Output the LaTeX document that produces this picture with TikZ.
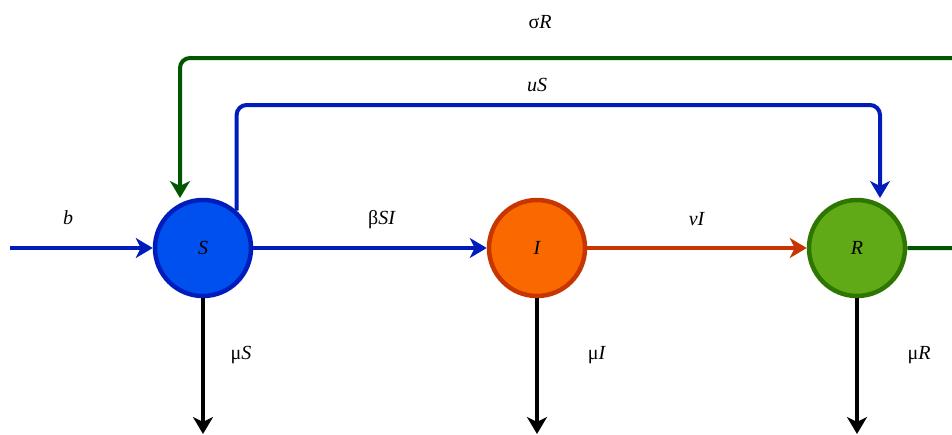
\documentclass[tikz,border=0pt]{standalone}
\usepackage{fontspec}
\setmainfont{Liberation Serif}
\usetikzlibrary{arrows.meta}
\definecolor{sfill}{HTML}{0050EF}
\definecolor{sdraw}{HTML}{001DBC}
\definecolor{ifill}{HTML}{FA6800}
\definecolor{idraw}{HTML}{C73500}
\definecolor{rfill}{HTML}{60A917}
\definecolor{rdraw}{HTML}{2D7600}
\definecolor{gline}{HTML}{005700}
\tikzset{
  comp/.style={circle, minimum size=96pt, inner sep=0pt, line width=4.5pt, font=\fontsize{20}{24}\selectfont\itshape},
  flow/.style={line width=4pt, -{Stealth[length=17pt,width=20pt,inset=5pt]}, rounded corners=10pt},
  lab/.style={font=\fontsize{20}{24}\selectfont, inner sep=0pt}
}
\begin{document}
\begin{tikzpicture}[x=1pt,y=-1pt]
\useasboundingbox (0,0) rectangle (952,434);
\clip (0,0) rectangle (952,434);
\node[comp, fill=sfill, draw=sdraw] (S) at (203,248) {S};
\node[comp, fill=ifill, draw=idraw] (I) at (537,248) {I};
\node[comp, fill=rfill, draw=rdraw] (R) at (857,248) {R};
\coordinate (in) at (10,248);
\coordinate (sbot) at (203,434);
\coordinate (ibot) at (537,434);
\coordinate (rbot) at (857,434);
\coordinate (gtop) at (180,58);
\coordinate (gtip) at (180,198);
\coordinate (btop) at (236,105);
\coordinate (btip) at (880,198);
% inflow
\draw[flow, sdraw] (in) -- (S.west);
\node[lab] at (68,218) {\itshape b};
% infection
\draw[flow, sdraw] (S.east) -- (I.west);
\node[lab] at (382,220) {β\textit{SI}};
% recovery
\draw[flow, idraw] (I.east) -- (R.west);
\node[lab] at (697,219) {\textit{vI}};
% loss of immunity
\draw[flow, gline] (R.east) -- (965,248) |- (gtop) -- (gtip);
\node[lab] at (540,22) {σ\textit{R}};
% vaccination
\draw[flow, sdraw] (S.48) |- (btop -| btip) -- (btip);
\node[lab] at (537,85) {\textit{uS}};
% deaths
\draw[flow, black] (S.south) -- (sbot);
\draw[flow, black] (I.south) -- (ibot);
\draw[flow, black] (R.south) -- (rbot);
\node[lab] at (241,355) {μ\textit{S}};
\node[lab] at (597,355) {μ\textit{I}};
\node[lab] at (919,355) {μ\textit{R}};
\end{tikzpicture}
\end{document}
